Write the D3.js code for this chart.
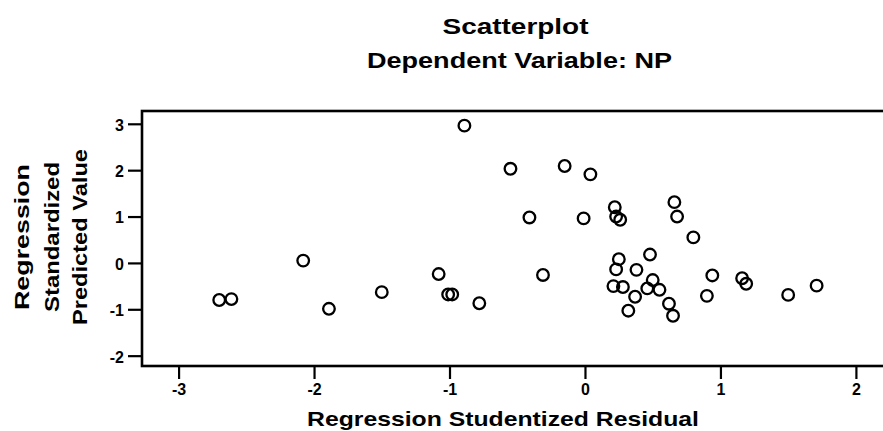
<!DOCTYPE html>
<html>
<head>
<meta charset="utf-8">
<script src="https://cdn.jsdelivr.net/npm/d3@7"></script>
<style>
  html, body { margin: 0; padding: 0; background: #fff; }
  svg { display: block; font-family: "Liberation Sans", Arial, sans-serif; }
</style>
</head>
<body>
<svg id="chart" width="883" height="431"></svg>
<script>
const residuals = [
  -2.70, -2.61, -2.08, -1.89, -1.50, -1.08, -1.01, -0.98, -0.78, -0.31,
   0.25,  0.23,  0.21,  0.28,  0.38,  0.37,  0.32,  0.48,  0.50,  0.46,
   0.55,  0.62,  0.65,  0.94,  0.90,  1.16,  1.19,  1.50,  1.71,
  -0.89, -0.55, -0.15,  0.04, -0.41, -0.01,  0.22,  0.23,  0.26,
   0.66,  0.68,  0.80
];
const predicted = [
  -0.80, -0.78,  0.05, -0.99, -0.63, -0.24, -0.68, -0.68, -0.87, -0.26,
   0.08, -0.14, -0.50, -0.52, -0.15, -0.73, -1.03,  0.18, -0.37, -0.55,
  -0.58, -0.88, -1.14, -0.27, -0.71, -0.33, -0.45, -0.69, -0.49,
   2.96,  2.03,  2.09,  1.91,  0.98,  0.96,  1.20,  1.00,  0.93,
   1.31,  1.00,  0.55
];
const xTicks = [-3, -2, -1, 0, 1, 2];
const yTicks = [-2, -1, 0, 1, 2, 3];
const titleLines = ["Scatterplot", "Dependent Variable: NP"];
const xTitle = "Regression Studentized Residual";
const yTitleLines = ["Regression", "Standardized", "Predicted Value"];

const svg = d3.select("#chart");
const plot = { left: 142, top: 111, right: 888, bottom: 366 };

const x = d3.scaleLinear().domain([-3.27, 2.2]).range([142, 883]);
const y = d3.scaleLinear().domain([-2.223, 3.276]).range([366, 111]);

// Frame
svg.append("rect")
  .attr("x", plot.left).attr("y", plot.top)
  .attr("width", plot.right - plot.left).attr("height", plot.bottom - plot.top)
  .attr("fill", "none").attr("stroke", "#000").attr("stroke-width", 2.6);

// Axes (hyphen-minus labels as in the reference)
const fmt = d => String(d);
const xAxis = svg.append("g")
  .attr("transform", `translate(0,${plot.bottom})`)
  .call(d3.axisBottom(x).tickValues(xTicks).tickSize(13).tickPadding(5).tickFormat(fmt));
const yAxis = svg.append("g")
  .attr("transform", `translate(${plot.left},0)`)
  .call(d3.axisLeft(y).tickValues(yTicks).tickSize(14).tickPadding(4).tickFormat(fmt));

[xAxis, yAxis].forEach(g => {
  g.select(".domain").remove();
  g.selectAll(".tick line").attr("stroke", "#000").attr("stroke-width", 2.2);
  g.selectAll(".tick text")
    .attr("fill", "#000")
    .style("font-family", '"Liberation Sans", Arial, sans-serif')
    .style("font-weight", "bold")
    .style("font-size", "16px");
});
yAxis.selectAll(".tick text").attr("dy", "0.4em");

// Points
svg.append("g").selectAll("circle")
  .data(residuals.map((r, i) => [r, predicted[i]]))
  .join("circle")
  .attr("cx", d => x(d[0]))
  .attr("cy", d => y(d[1]))
  .attr("r", 5.8)
  .attr("fill", "none")
  .attr("stroke", "#000")
  .attr("stroke-width", 2.3);

// Titles
function boldText(sel, txt, size, len) {
  return sel.append("text")
    .attr("text-anchor", "middle")
    .attr("font-weight", "bold")
    .attr("font-size", size)
    .attr("fill", "#000")
    .attr("textLength", len)
    .attr("lengthAdjust", "spacingAndGlyphs")
    .text(txt);
}
boldText(svg, titleLines[0], 22, 146).attr("x", 515.5).attr("y", 34);
boldText(svg, titleLines[1], 22, 305).attr("x", 519.5).attr("y", 68);
boldText(svg, xTitle, 21, 392).attr("x", 503).attr("y", 426);

const yTitleX = [29, 59, 87];
const yTitleLen = [146, 150, 176];
yTitleLines.forEach((t, i) => {
  boldText(svg, t, 20, yTitleLen[i])
    .attr("transform", `translate(${yTitleX[i]},237) rotate(-90)`);
});
</script>
</body>
</html>
